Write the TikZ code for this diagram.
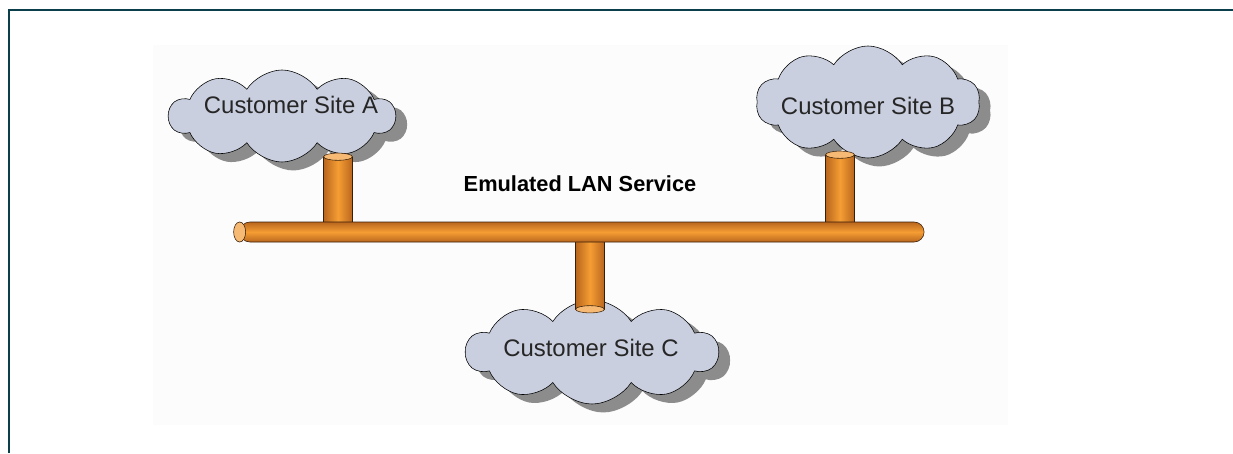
\documentclass[tikz,border=0pt]{standalone}
\usepackage{fontspec}
\setmainfont{Liberation Sans}
\usetikzlibrary{shapes.symbols,shadows}
\definecolor{pipe}{HTML}{F59D33}
\definecolor{pipeedge}{HTML}{B9661E}
\definecolor{pipecap}{HTML}{F6BA74}
\definecolor{cloudfill}{HTML}{C9CFDF}
\definecolor{framecol}{HTML}{0B3F4C}
\tikzset{
  site/.style={cloud, cloud puffs=10, cloud puff arc=115, cloud ignores aspect, draw=black, fill=cloudfill, inner sep=0pt,
    drop shadow={shadow xshift=8pt, shadow yshift=-6pt, fill=black!45, opacity=1}},
  sitetext/.style={font=\fontsize{17}{20}\selectfont, text=black!85},
  vpipe/.style={rectangle, draw=black!70!pipeedge, left color=pipeedge, right color=pipeedge, middle color=pipe,
    minimum width=0.72cm, inner sep=0pt},
  pipeend/.style={draw=black!70!pipeedge, fill=pipecap},
}
\begin{document}
\begin{tikzpicture}[x=0.025cm, y=-0.025cm]
  \useasboundingbox (0,0) rectangle (1233,453);
  \fill[black!1] (153,45) rectangle (1008,425);
  \draw[framecol, line width=1.4pt] (9,453) -- (9,10) -- (1233,10);

  \node[site, minimum width=5.65cm, minimum height=2.3cm] (siteA) at (282,116) {};
  \node[site, minimum width=5.6cm, minimum height=2.8cm] (siteB) at (868,102) {};
  \node[site, minimum width=6.3cm, minimum height=2.6cm] (siteC) at (592,352) {};
  \node[sitetext] (labA) at (291,105) {Customer Site A};
  \node[sitetext] (labB) at (868,106) {Customer Site B};
  \node[sitetext] (labC) at (591,348) {Customer Site C};

  % taps down to the bus
  \node[vpipe, minimum height=1.7cm] (tapA) at (338,191) {};
  \node[vpipe, minimum height=1.75cm] (tapB) at (840,190) {};
  \node[vpipe, minimum height=1.75cm] (tapC) at (590,274) {};
  \draw[pipeend] (tapA.north) ellipse [x radius=0.36cm, y radius=0.09cm];
  \draw[pipeend] (tapB.north) ellipse [x radius=0.36cm, y radius=0.09cm];
  \draw[pipeend] (tapC.south) ellipse [x radius=0.36cm, y radius=0.09cm];

  \node[rectangle, rounded corners=0.25cm, draw=black!70!pipeedge, top color=pipeedge, bottom color=pipeedge, middle color=pipe,
    minimum width=17.1cm, minimum height=0.5cm, inner sep=0pt] (bus) at (582,232) {};
  \draw[pipeend] (bus.west) ellipse [x radius=0.15cm, y radius=0.25cm];

  \node[font=\bfseries\fontsize{15.5}{18}\selectfont] (service) at (580,184) {Emulated LAN Service};
\end{tikzpicture}
\end{document}
